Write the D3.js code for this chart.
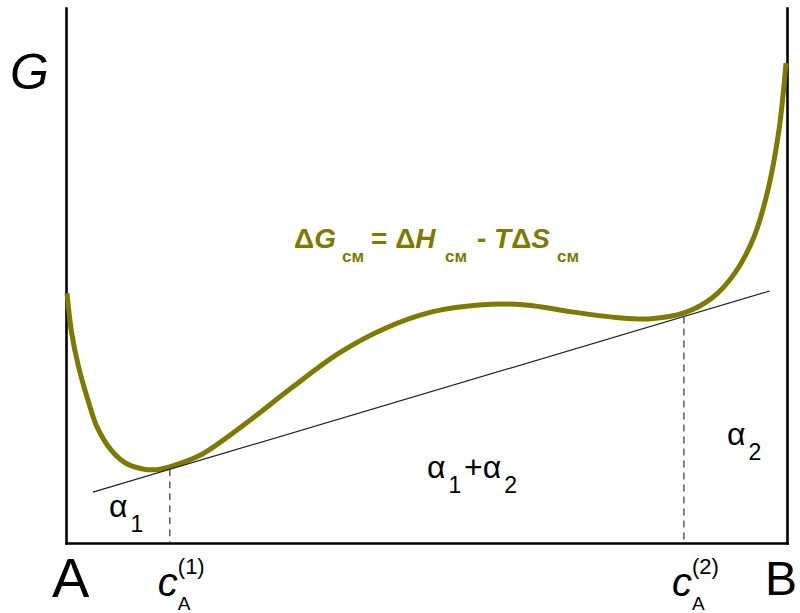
<!DOCTYPE html>
<html lang="ru">
<head>
<meta charset="UTF-8">
<title>G(c) mixing curve</title>
<script src="https://d3js.org/d3.v7.min.js"></script>
<style>
  body { margin: 0; background: #fff; }
  svg text { font-family: "Liberation Sans", Arial, sans-serif; fill: #000; }
  .formula { fill: #7d7a00 !important; font-weight: bold; }
  .axis .domain { stroke: #000; stroke-width: 2.6; }
</style>
</head>
<body>
<svg id="chart" width="800" height="613"></svg>
<script>
// curve G(c) (x: 0 = A, 100 = B)
const curveX = [0.14, 0.78, 1.75, 3.05, 4.3, 6.24, 8.18, 10.82, 13.04, 14.29, 18.59, 24.97,
  31.48, 37.86, 44.38, 50.76, 57.28, 63.73, 70.18, 76.7, 81.14, 85.71, 89.6, 92.79, 95.42,
  97.36, 98.89, 99.86];
const curveG = [46.7, 39.3, 32.9, 26.7, 21.7, 17.4, 15.0, 13.8, 13.8, 14.2, 16.4, 22.4,
  29.2, 35.5, 40.2, 43.2, 44.5, 44.5, 43.2, 42.1, 41.9, 43.0, 45.8, 50.5, 57.2,
  66.0, 77.2, 89.7];

// common tangent
const tangentX = [3.74, 97.6];
const tangentG = [9.5, 47.1];

// contact points
const contactX = [14.4, 85.7];
const contactSup = ["(1)", "(2)"];

const svg = d3.select("#chart");

const x = d3.scaleLinear().domain([0, 100]).range([66, 787]);
const y = d3.scaleLinear().domain([0, 100]).range([543, 8]);
const tangentAt = d3.scaleLinear().domain(tangentX).range(tangentG);

// frame: left, right, bottom (no ticks)
svg.append("g").attr("class", "axis")
  .attr("transform", "translate(66,0)")
  .call(d3.axisLeft(y).tickValues([]).tickSizeOuter(0));
svg.append("g").attr("class", "axis")
  .attr("transform", "translate(787,0)")
  .call(d3.axisRight(y).tickValues([]).tickSizeOuter(0));
svg.append("g").attr("class", "axis")
  .attr("transform", "translate(0,543)")
  .call(d3.axisBottom(x).tickValues([]).tickSizeOuter(0));
svg.selectAll(".axis .domain").attr("stroke-linecap", "square");

// G curve
const line = d3.line()
  .x(d => x(d[0]))
  .y(d => y(d[1]))
  .curve(d3.curveCatmullRom.alpha(0.5));

svg.append("path")
  .datum(d3.zip(curveX, curveG))
  .attr("d", line)
  .attr("fill", "none")
  .attr("stroke", "#7d7a00")
  .attr("stroke-width", 5)
  .attr("stroke-linecap", "butt");

// tangent line
svg.append("line")
  .attr("x1", x(tangentX[0])).attr("y1", y(tangentG[0]))
  .attr("x2", x(tangentX[1])).attr("y2", y(tangentG[1]))
  .attr("stroke", "#222")
  .attr("stroke-width", 1.2);

// dashed drop lines
svg.selectAll("line.drop")
  .data(contactX)
  .join("line")
  .attr("class", "drop")
  .attr("x1", d => x(d)).attr("x2", d => x(d))
  .attr("y1", d => y(tangentAt(d))).attr("y2", y(0))
  .attr("stroke", "#333")
  .attr("stroke-width", 1.2)
  .attr("stroke-dasharray", "7,5");

// c_A labels under the contact points
contactX.forEach((cx, i) => {
  const px = x(cx) - 12;
  svg.append("text").attr("x", px).attr("y", 596)
    .attr("font-size", 40).attr("font-style", "italic").text("c");
  svg.append("text").attr("x", px + 20).attr("y", 610)
    .attr("font-size", 19).text("A");
  svg.append("text").attr("x", px + 20).attr("y", 574)
    .attr("font-size", 22).text(contactSup[i]);
});

// corner letters
svg.append("text").attr("x", 10).attr("y", 89)
  .attr("font-size", 50).attr("font-style", "italic").text("G");
svg.append("text").attr("x", 52).attr("y", 597)
  .attr("font-size", 56).text("A");
svg.append("text").attr("x", 765).attr("y", 595)
  .attr("font-size", 48).text("B");

// alpha labels
function alphaLabel(px, py, sub) {
  const t = svg.append("text").attr("x", px).attr("y", py).attr("font-size", 32);
  t.append("tspan").text("α");
  t.append("tspan").attr("font-size", 23).attr("dx", 3).attr("dy", 15).text(sub);
  return t;
}
alphaLabel(109, 517, "1");
alphaLabel(727, 445, "2");

const mid = svg.append("text").attr("x", 427).attr("y", 478).attr("font-size", 32);
mid.append("tspan").text("α");
mid.append("tspan").attr("font-size", 23).attr("dx", 3).attr("dy", 15).text("1");
mid.append("tspan").attr("x", 464).attr("dy", -15).text("+");
mid.append("tspan").text("α");
mid.append("tspan").attr("font-size", 23).attr("dx", 3).attr("dy", 15).text("2");

// formula
const f = svg.append("text").attr("class", "formula")
  .attr("x", 294).attr("y", 248).attr("font-size", 28);
f.append("tspan").attr("class", "formula").text("Δ");
f.append("tspan").attr("class", "formula").attr("font-style", "italic").text("G");
f.append("tspan").attr("class", "formula").attr("x", 342).attr("dy", 14).attr("font-size", 17).text("см");
f.append("tspan").attr("class", "formula").attr("x", 371).attr("dy", -14).text("= Δ");
f.append("tspan").attr("class", "formula").attr("font-style", "italic").text("H");
f.append("tspan").attr("class", "formula").attr("x", 445).attr("dy", 14).attr("font-size", 17).text("см");
f.append("tspan").attr("class", "formula").attr("x", 477).attr("dy", -14).text("- ");
f.append("tspan").attr("class", "formula").attr("font-style", "italic").text("T");
f.append("tspan").attr("class", "formula").text("Δ");
f.append("tspan").attr("class", "formula").attr("font-style", "italic").text("S");
f.append("tspan").attr("class", "formula").attr("x", 557).attr("dy", 14).attr("font-size", 17).text("см");
</script>
</body>
</html>
